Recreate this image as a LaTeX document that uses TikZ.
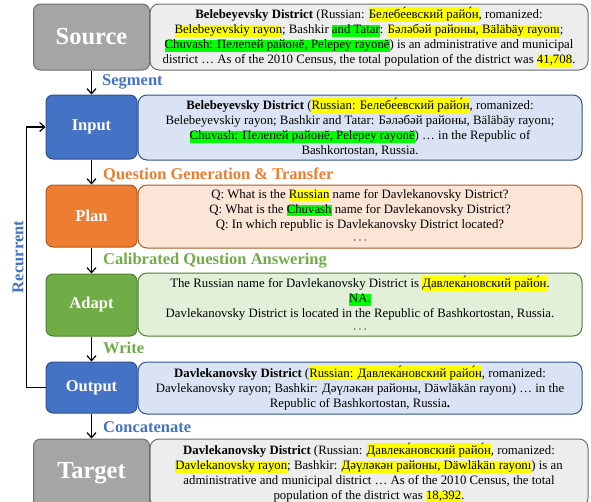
\documentclass[tikz,border=0pt]{standalone}
\usepackage{fontspec}
\setmainfont{Liberation Serif}
\usepackage{tikz}
\usetikzlibrary{arrows.meta}

\definecolor{grayfill}{HTML}{A5A5A5}
\definecolor{grayline}{HTML}{6E6E6E}
\definecolor{graytext}{HTML}{EDEDED}
\definecolor{bluefill}{HTML}{4472C4}
\definecolor{blueline}{HTML}{2F528F}
\definecolor{bluetext}{HTML}{DAE3F3}
\definecolor{orangefill}{HTML}{ED7D31}
\definecolor{orangeline}{HTML}{AE5A21}
\definecolor{orangetext}{HTML}{FBE5D6}
\definecolor{greenfill}{HTML}{70AD47}
\definecolor{greenline}{HTML}{507E32}
\definecolor{greentext}{HTML}{E2F0D9}
\definecolor{hlyellow}{HTML}{FFFF00}
\definecolor{hlgreen}{HTML}{00FF00}

\newcommand{\hlstrut}{\rule[-2.9pt]{0pt}{11.6pt}}
\newcommand{\hly}[1]{{\setlength{\fboxsep}{0pt}\colorbox{hlyellow}{\hlstrut#1}}}
\newcommand{\hlg}[1]{{\setlength{\fboxsep}{0pt}\colorbox{hlgreen}{\hlstrut#1}}}

\tikzset{
	>={Straight Barb[length=5pt,width=9pt]},
	stage/.style={draw, rounded corners=7pt, line width=1pt, text=white,
		font=\bfseries\fontsize{16.5}{18}\selectfont, minimum width=91pt, inner sep=0pt},
	bigstage/.style={stage, minimum width=116pt, minimum height=66pt,
		font=\bfseries\fontsize{24.5}{26}\selectfont},
	textbox/.style={draw, rounded corners=9pt, line width=1pt, align=center,
		font=\fontsize{12.8}{15}\selectfont, inner sep=0pt},
	steplabel/.style={anchor=west, inner sep=0pt, font=\bfseries\fontsize{16.5}{18}\selectfont},
	flow/.style={->, line width=1.2pt, black},
}

\begin{document}
\begin{tikzpicture}[x=1pt, y=-1pt]
		\useasboundingbox (0,0) rectangle (591,501);
		\clip (0,0) rectangle (591,501);

		\node[bigstage, fill=grayfill, draw=grayline] (source) at (91.5,37) {Source};
		\node[textbox, fill=graytext, draw=grayline, minimum width=438pt, minimum height=66pt]
			(sourcetext) at (369,37)
			{\textbf{Belebeyevsky District} (Russian: \hly{Белебе́евский райо́н}, romanized:\\
			\hly{Belebeyevskiy rayon}; Bashkir \hlg{and Tatar}: \hly{Бәләбәй районы, Bäläbäy rayonı};\\
			\hlg{Chuvash: Пелепей районĕ, Pelepey rayonĕ}) is an administrative and municipal\\
			district … As of the 2010 Census, the total population of the district was \hly{41,708}.};

		\node[stage, fill=bluefill, draw=blueline, minimum height=64pt] (input) at (91.5,127) {Input};
		\node[textbox, fill=bluetext, draw=blueline, minimum width=444pt, minimum height=65pt]
			(inputtext) at (360,127.5)
			{\textbf{Belebeyevsky District} (\hly{Russian: Белебе́евский райо́н}, romanized:\\
			Belebeyevskiy rayon; Bashkir and Tatar: Бәләбәй районы, Bäläbäy rayonı;\\
			\hlg{Chuvash: Пелепей районĕ, Pelepey rayonĕ}) … in the Republic of\\
			Bashkortostan, Russia.};

		\node[stage, fill=orangefill, draw=orangeline, minimum height=62pt] (plan) at (91.5,216) {Plan};
		\node[textbox, fill=orangetext, draw=orangeline, minimum width=444pt, minimum height=63pt]
			(plantext) at (360,216.5)
			{Q: What is the \hly{Russian} name for Davlekanovsky District?\\
			Q: What is the \hlg{Chuvash} name for Davlekanovsky District?\\
			Q: In which republic is Davlekanovsky District located?\\
			$\cdots$};

		\node[stage, fill=greenfill, draw=greenline, minimum height=62pt] (adapt) at (91.5,305) {Adapt};
		\node[textbox, fill=greentext, draw=greenline, minimum width=444pt, minimum height=63pt]
			(adapttext) at (360,304.5)
			{The Russian name for Davlekanovsky District is \hly{Давлека́новский райо́н}.\\
			\hlg{NA.}\\
			Davlekanovsky District is located in the Republic of Bashkortostan, Russia.\\
			$\cdots$};

		\node[stage, fill=bluefill, draw=blueline, minimum height=51pt] (output) at (91.5,387.5) {Output};
		\node[textbox, fill=bluetext, draw=blueline, minimum width=444pt, minimum height=52pt]
			(outputtext) at (360,388)
			{\textbf{Davlekanovsky District} (\hly{Russian: Давлека́новский райо́н}, romanized:\\
			Davlekanovsky rayon; Bashkir: Дәүләкән районы, Däwläkän rayonı) … in the\\
			Republic of Bashkortostan, Russia\textbf{.}};

		\node[bigstage, fill=grayfill, draw=grayline, minimum height=68pt] (target) at (91.5,473) {Target};
		\node[textbox, fill=graytext, draw=grayline, minimum width=438pt, minimum height=68pt]
			(targettext) at (369,473)
			{\textbf{Davlekanovsky District} (Russian: \hly{Давлека́новский райо́н}, romanized:\\
			\hly{Davlekanovsky rayon}; Bashkir: \hly{Дәүләкән районы, Däwläkän rayonı}) is an\\
			administrative and municipal district … As of the 2010 Census, the total\\
			population of the district was \hly{18,392}.};

		\node[steplabel, text=bluefill] (segment) at (102,82) {Segment};
		\node[steplabel, text=orangefill] (generate) at (103,175) {Question Generation \& Transfer};
		\node[steplabel, text=greenfill] (answer) at (103,261) {Calibrated Question Answering};
		\node[steplabel, text=greenfill] (write) at (103,348) {Write};
		\node[steplabel, text=bluefill] (concat) at (103,427) {Concatenate};
		\node[rotate=90, inner sep=0pt, text=bluefill, font=\bfseries\fontsize{16.5}{18}\selectfont]
			(recurrent) at (18,257) {Recurrent};

		\draw[flow] (source) -- (input);
		\draw[flow] (input) -- (plan);
		\draw[flow] (plan) -- (adapt);
		\draw[flow] (adapt) -- (output);
		\draw[flow] (output) -- (target);
		\draw[flow] (output.west) -- ++(-19,0) |- (input.west);

	\end{tikzpicture}
\end{document}
